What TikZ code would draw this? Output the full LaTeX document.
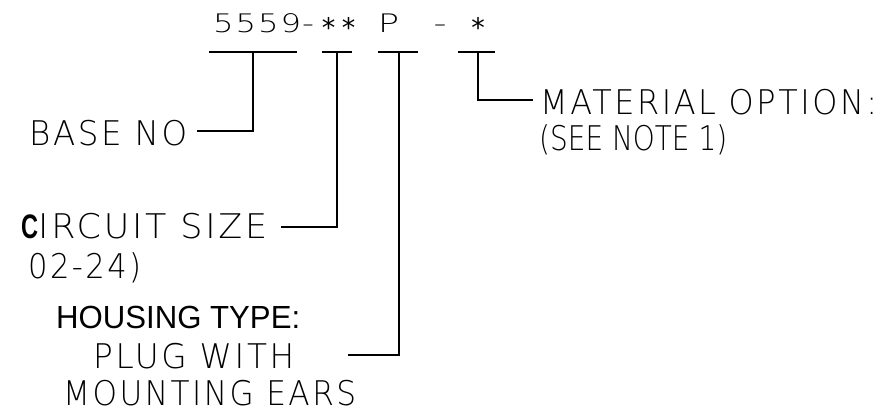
\documentclass[tikz,border=0pt]{standalone}
\usepackage{graphicx}
\usepackage{fontspec}
\newfontfamily\cadfont{DejaVuSans-ExtraLight.ttf}[LetterSpace=8]
\newfontfamily\cadnote{DejaVuSans-ExtraLight.ttf}
\newfontfamily\cadhead{DejaVuSans-ExtraLight.ttf}[LetterSpace=6]
\newfontfamily\starfont{DejaVuSans.ttf}
\newfontfamily\arialfont{Liberation Sans}
\newfontfamily\arialbold{Liberation Sans Bold}
\newcommand{\fitw}[2]{\resizebox{#1pt}{\height}{#2}}
\tikzset{
  conn/.style={draw=black, line width=1.2pt},
  lbl/.style={anchor=base west, inner sep=0pt, font=\cadfont\fontsize{34}{34}\selectfont},
  nte/.style={anchor=base west, inner sep=0pt, font=\cadnote\fontsize{34}{34}\selectfont},
  hdr/.style={anchor=base west, inner sep=0pt, font=\cadhead\fontsize{25.5}{25.5}\selectfont},
  hdc/.style={anchor=base, inner sep=0pt, font=\cadhead\fontsize{25.5}{25.5}\selectfont},
  hds/.style={anchor=base, inner sep=0pt, font=\starfont\fontsize{27}{27}\selectfont},
  typ/.style={anchor=base west, inner sep=0pt, font=\arialfont\fontsize{32}{32}\selectfont}
}
\begin{document}
\begin{tikzpicture}[x=1pt,y=-1pt]
\useasboundingbox (0,0) rectangle (888,416);
% heading
\node[hdr] (h5559) at (213,32) {\fitw{88}{5559}};
\node[hdc] (hd1) at (308,32) {\fitw{12}{-}};
\node[hds] (hs1) at (328.5,37) {*};
\node[hds] (hs2) at (348.5,37) {*};
\node[hdc] (hp) at (388.5,32) {\fitw{21}{P}};
\node[hdc] (hd2) at (440,32) {\fitw{13}{-}};
\node[hds] (hs3) at (478,37) {*};
% labels
\node[lbl] (base) at (29,145) {\fitw{158}{BASE NO}};
\node[lbl] (circ) at (21,238) {\fitw{17}{\arialbold C}\fitw{229}{IRCUIT SIZE}};
\node[lbl] (rng) at (28,278) {\fitw{113}{02-24)}};
\node[typ] (htype) at (56,328) {\fitw{244}{HOUSING TYPE:}};
\node[lbl] (plug) at (93,368) {\fitw{201}{PLUG WITH}};
\node[lbl] (mount) at (63,405) {\fitw{293}{MOUNTING EARS}};
\node[lbl] (mat) at (540,114) {\fitw{337}{MATERIAL OPTION:}};
\node[nte] (note) at (539,150) {\fitw{188}{(SEE NOTE 1)}};
% underlines and leaders
\coordinate (u1l) at (209,52); \coordinate (u1r) at (297,52); \coordinate (u1m) at (253,52);
\coordinate (u2l) at (322,52); \coordinate (u2r) at (352,52); \coordinate (u2m) at (337,52);
\coordinate (u3l) at (378,52); \coordinate (u3r) at (418,52); \coordinate (u3m) at (399,52);
\coordinate (u4l) at (458,52); \coordinate (u4r) at (495,52); \coordinate (u4m) at (478,52);
\coordinate (e1) at (197,131);
\coordinate (e2) at (281,227);
\coordinate (e3) at (348,355);
\coordinate (e4) at (533,100);
\draw[conn] (u1l) -- (u1r);
\draw[conn] (u2l) -- (u2r);
\draw[conn] (u3l) -- (u3r);
\draw[conn] (u4l) -- (u4r);
\draw[conn] (u1m) |- (e1);
\draw[conn] (u2m) |- (e2);
\draw[conn] (u3m) |- (e3);
\draw[conn] (u4m) |- (e4);
\end{tikzpicture}
\end{document}
